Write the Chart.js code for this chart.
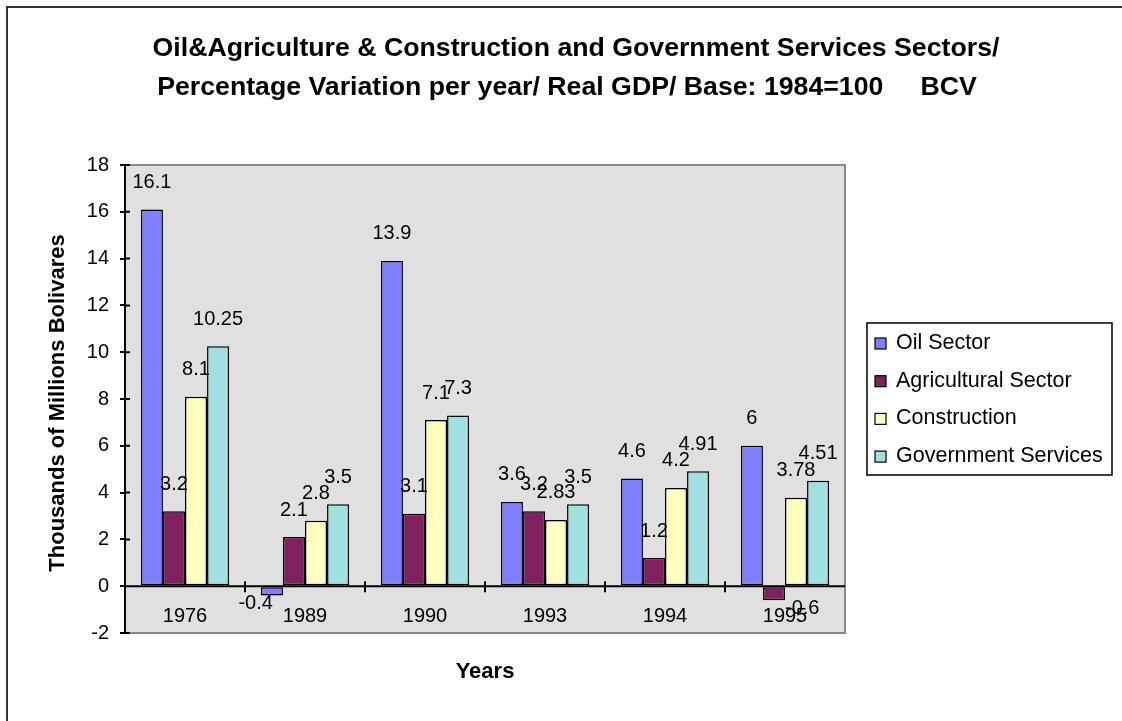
<!DOCTYPE html>
<html>
<head>
<meta charset="utf-8">
<script src="https://cdn.jsdelivr.net/npm/chart.js@4.4.0/dist/chart.umd.min.js"></script>
<style>
  html, body { margin: 0; padding: 0; background: #fff; }
  canvas { display: block; }
</style>
</head>
<body>
<canvas id="chart" width="1122" height="721"></canvas>
<script>
const years = ['1976', '1989', '1990', '1993', '1994', '1995'];
const oilSector = [16.1, -0.4, 13.9, 3.6, 4.6, 6];
const agriculturalSector = [3.2, 2.1, 3.1, 3.2, 1.2, -0.6];
const construction = [8.1, 2.8, 7.1, 2.83, 4.2, 3.78];
const governmentServices = [10.25, 3.5, 7.3, 3.5, 4.91, 4.51];
const titleLines = [
  'Oil&Agriculture & Construction and Government Services Sectors/',
  'Percentage Variation per year/ Real GDP/ Base: 1984=100     BCV'
];

const FONT = '"Liberation Sans", Arial, sans-serif';
Chart.defaults.font.family = FONT;
Chart.defaults.color = '#000';

// plot background, frame, axis extras, labels, legend, titles
const decorations = {
  id: 'decorations',
  beforeDraw(chart) {
    const { ctx, chartArea: a } = chart;
    ctx.save();
    ctx.fillStyle = '#fff';
    ctx.fillRect(0, 0, chart.width, chart.height);
    // outer frame
    ctx.strokeStyle = '#333';
    ctx.lineWidth = 2;
    ctx.beginPath();
    ctx.moveTo(7, chart.height);
    ctx.lineTo(7, 7);
    ctx.lineTo(chart.width, 7);
    ctx.stroke();
    // plot area
    ctx.fillStyle = '#e0e0e0';
    ctx.fillRect(a.left, a.top, a.right - a.left, a.bottom - a.top);
    ctx.strokeStyle = '#888';
    ctx.lineWidth = 2;
    ctx.beginPath();
    ctx.moveTo(a.left, a.top);
    ctx.lineTo(a.right, a.top);
    ctx.lineTo(a.right, a.bottom);
    ctx.lineTo(a.left, a.bottom);
    ctx.stroke();
    ctx.restore();
  },
  afterDatasetsDraw(chart) {
    const { ctx, chartArea: a, scales: { x, y } } = chart;
    ctx.save();
    // zero line with category ticks
    const y0 = y.getPixelForValue(0);
    ctx.strokeStyle = '#000';
    ctx.lineWidth = 2;
    ctx.beginPath();
    ctx.moveTo(a.left, y0);
    ctx.lineTo(a.right, y0);
    const step = x.getPixelForValue(1) - x.getPixelForValue(0);
    for (let i = 1; i < years.length; i++) {
      const px = Math.round(x.getPixelForValue(i) - step / 2);
      ctx.moveTo(px, y0 - 5);
      ctx.lineTo(px, y0 + 6);
    }
    // inward part of y ticks
    y.ticks.forEach(t => {
      const py = y.getPixelForValue(t.value);
      ctx.moveTo(a.left, py);
      ctx.lineTo(a.left + 5, py);
    });
    ctx.stroke();

    // category labels inside the plot
    ctx.font = '20px ' + FONT;
    ctx.fillStyle = '#000';
    ctx.textAlign = 'center';
    ctx.textBaseline = 'middle';
    years.forEach((yr, i) => {
      ctx.fillText(yr, x.getPixelForValue(i), y.getPixelForValue(-1.3));
    });

    // value labels (negative ones sit beside the bar bottom, as Excel nudged them)
    chart.data.datasets.forEach((ds, di) => {
      chart.getDatasetMeta(di).data.forEach((bar, i) => {
        const v = ds.data[i];
        if (v >= 0) {
          ctx.textAlign = 'center';
          ctx.fillText(String(v), bar.x, bar.y - 27);
        } else {
          const rightSide = di % 2 === 1;
          ctx.textAlign = rightSide ? 'left' : 'right';
          const edge = rightSide ? bar.x + bar.width / 2 : bar.x - bar.width / 2 + 12;
          ctx.fillText(String(v), edge, bar.y + 8);
        }
      });
    });

    // legend
    ctx.strokeStyle = '#000';
    ctx.lineWidth = 1.5;
    ctx.strokeRect(867, 323, 245, 152);
    ctx.textAlign = 'left';
    ctx.font = '21.5px ' + FONT;
    chart.data.datasets.forEach((ds, di) => {
      const cy = 343 + di * 37.7;
      ctx.fillStyle = ds.backgroundColor;
      ctx.fillRect(875, cy - 5, 11, 11);
      ctx.lineWidth = 1.2;
      ctx.strokeRect(875, cy - 5, 11, 11);
      ctx.fillStyle = '#000';
      ctx.fillText(ds.label, 896, cy);
    });

    // titles
    ctx.textAlign = 'center';
    ctx.font = 'bold 26.7px ' + FONT;
    ctx.fillText(titleLines[0], 576, 49);
    ctx.fillText(titleLines[1], 567, 88);
    ctx.font = 'bold 22px ' + FONT;
    ctx.fillText('Years', (a.left + a.right) / 2, 672);
    ctx.translate(58, (a.top + a.bottom) / 2 + 4);
    ctx.rotate(-Math.PI / 2);
    ctx.fillText('Thousands of Millions Bolivares', 0, 0);
    ctx.restore();
  }
};

const barStyle = { borderColor: '#000', borderWidth: 1.5, borderSkipped: false };

new Chart(document.getElementById('chart'), {
  type: 'bar',
  data: {
    labels: years,
    datasets: [
      { label: 'Oil Sector', data: oilSector, backgroundColor: '#8080ff', ...barStyle },
      { label: 'Agricultural Sector', data: agriculturalSector, backgroundColor: '#802060', ...barStyle },
      { label: 'Construction', data: construction, backgroundColor: '#ffffc0', ...barStyle },
      { label: 'Government Services', data: governmentServices, backgroundColor: '#a0e0e0', ...barStyle }
    ]
  },
  options: {
    responsive: false,
    animation: false,
    layout: { padding: { top: 165, bottom: 88, left: 0, right: 277 } },
    datasets: { bar: { categoryPercentage: 0.735, barPercentage: 1 } },
    plugins: { legend: { display: false }, title: { display: false }, tooltip: { enabled: false } },
    scales: {
      x: { display: false, offset: true },
      y: {
        min: -2,
        max: 18,
        afterFit(scale) { scale.width = 125; },
        ticks: { stepSize: 2, font: { size: 20 }, color: '#000', padding: 11 },
        grid: { drawOnChartArea: false, drawTicks: true, tickLength: 5, color: '#000', lineWidth: 2 },
        border: { color: '#000', width: 2 }
      }
    }
  },
  plugins: [decorations]
});
</script>
</body>
</html>
